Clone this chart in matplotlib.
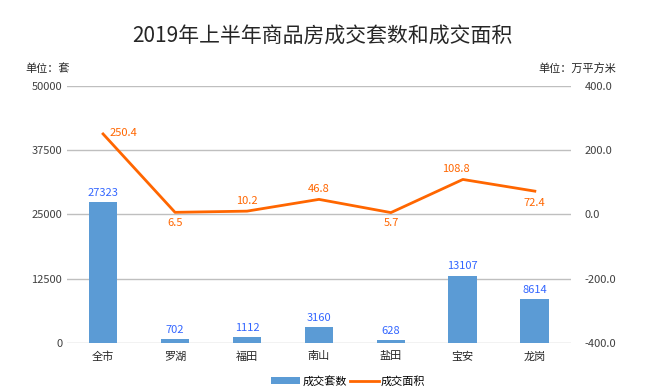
import matplotlib
matplotlib.use("Agg")
import matplotlib.pyplot as plt
import numpy as np

plt.rcParams['font.family'] = ['Noto Sans CJK SC', 'DejaVu Sans']

# Data
districts = ['全市', '罗湖', '福田', '南山', '盐田', '宝安', '龙岗']
units_sold = [27323, 702, 1112, 3160, 628, 13107, 8614]
area_sold = [250.4, 6.5, 10.2, 46.8, 5.7, 108.8, 72.4]
left_ticks = [0, 12500, 25000, 37500, 50000]
right_ticks = [-400.0, -200.0, 0.0, 200.0, 400.0]

bar_color = '#5B9BD5'
line_color = '#FF6600'
label_blue = '#3366FF'
grid_color = '#BFBFBF'
text_color = '#404040'

fig = plt.figure(figsize=(6.45, 3.92), dpi=100)
ax = fig.add_axes([0.104, 0.125, 0.781, 0.656])
x = np.arange(len(districts))

# Bars: units sold
ax.bar(x, units_sold, width=0.4, color=bar_color, zorder=2,
       label='成交套数')
for xi, v in zip(x, units_sold):
    ax.annotate(str(v), (xi, v), xytext=(0, 3), textcoords='offset points',
                ha='center', va='bottom', color=label_blue, fontsize=8)

ax.set_xlim(-0.5, len(districts) - 0.5)
ax.set_ylim(left_ticks[0], left_ticks[-1])
ax.set_yticks(left_ticks)
ax.set_xticks(x)
ax.set_xticklabels(districts, fontsize=9, color='#262626')
ax.yaxis.grid(True, color=grid_color, linewidth=1, zorder=0)
ax.set_axisbelow(True)
ax.tick_params(axis='both', length=0, labelsize=8, colors=text_color)
ax.tick_params(axis='x', pad=6, colors='#262626')
for s in ax.spines.values():
    s.set_visible(False)

# Line: area sold (right axis)
ax2 = ax.twinx()
ax2.plot(x, area_sold, color=line_color, linewidth=2, zorder=3,
         label='成交面积')
ax2.set_ylim(right_ticks[0], right_ticks[-1])
ax2.set_yticks(right_ticks)
ax2.set_yticklabels([f'{t:.1f}' for t in right_ticks])
ax2.tick_params(axis='y', length=0, labelsize=8, colors=text_color, pad=10)
for s in ax2.spines.values():
    s.set_visible(False)

# (dx, dy, ha, va) for each point label
label_pos = [(5, 1, 'left', 'center'), (0, -4, 'center', 'top'),
             (0, 4, 'center', 'bottom'), (0, 4, 'center', 'bottom'),
             (0, -4, 'center', 'top'), (-5, 4, 'center', 'bottom'),
             (0, -5, 'center', 'top')]
for xi, v, (dx, dy, ha, va) in zip(x, area_sold, label_pos):
    ax2.annotate(f'{v:.1f}', (xi, v), xytext=(dx, dy),
                 textcoords='offset points', ha=ha, va=va,
                 color=line_color, fontsize=8)

# Title and unit labels
fig.text(0.5, 0.91, '2019年上半年商品房成交套数和成交面积', ha='center',
         va='center', fontsize=15, color='#262626', fontweight='medium')
fig.text(0.04, 0.825, '单位：套', ha='left', va='center', fontsize=8,
         color='#262626')
fig.text(0.955, 0.825, '单位：万平方米', ha='right', va='center',
         fontsize=8, color='#262626')

# Legend
h1, l1 = ax.get_legend_handles_labels()
h2, l2 = ax2.get_legend_handles_labels()
fig.legend(h1 + h2, l1 + l2, loc='center', bbox_to_anchor=(0.54, 0.028),
           ncol=2, frameon=False, fontsize=8, handlelength=2.6,
           handleheight=0.7, columnspacing=0.3, handletextpad=0.2)

fig.savefig('out.png', dpi=100)
